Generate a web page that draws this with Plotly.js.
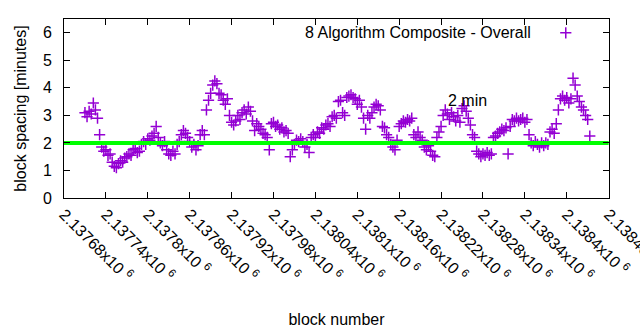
<!DOCTYPE html>
<html>
<head>
<meta charset="utf-8">
<script src="https://cdn.plot.ly/plotly-3.0.1.min.js"></script>
<style>html,body{margin:0;padding:0;background:#fff;} #chart{width:640px;height:330px;}</style>
</head>
<body>
<div id="chart"></div>
<script>
// ---- data ----
const seriesName = "8 Algorithm Composite - Overall";
const blocks = [
2137710,2137713,2137716,2137719,2137722,2137725,2137728,2137731,2137734,2137737,
2137740,2137743,2137746,2137749,2137752,2137755,2137758,2137761,2137764,2137767,
2137770,2137773,2137776,2137779,2137782,2137785,2137788,2137791,2137794,2137797,
2137800,2137803,2137806,2137809,2137812,2137815,2137818,2137821,2137824,2137827,
2137830,2137833,2137836,2137839,2137842,2137845,2137848,2137851,2137854,2137857,
2137860,2137863,2137866,2137869,2137872,2137875,2137878,2137881,2137884,2137887,
2137890,2137893,2137896,2137899,2137902,2137905,2137908,2137911,2137914,2137917,
2137920,2137923,2137926,2137929,2137932,2137935,2137938,2137941,2137944,2137947,
2137950,2137953,2137956,2137959,2137962,2137965,2137968,2137971,2137974,2137977,
2137980,2137983,2137986,2137989,2137992,2137995,2137998,2138001,2138004,2138007,
2138010,2138013,2138016,2138019,2138022,2138025,2138028,2138031,2138034,2138037,
2138040,2138043,2138046,2138049,2138052,2138055,2138058,2138061,2138064,2138067,
2138070,2138073,2138076,2138079,2138082,2138085,2138088,2138091,2138094,2138097,
2138100,2138103,2138106,2138109,2138112,2138115,2138118,2138121,2138124,2138127,
2138130,2138133,2138136,2138139,2138142,2138145,2138148,2138151,2138154,2138157,
2138160,2138163,2138166,2138169,2138172,2138175,2138178,2138181,2138184,2138187,
2138190,2138193,2138196,2138199,2138202,2138205,2138208,2138211,2138214,2138217,
2138220,2138223,2138226,2138229,2138232,2138235,2138238,2138241,2138244,2138247,
2138250,2138253,2138256,2138259,2138262,2138265,2138268,2138271,2138274,2138277,
2138280,2138283,2138286,2138289,2138292,2138295,2138298,2138301,2138304,2138307,
2138310,2138313,2138316,2138319,2138322,2138325,2138328,2138331,2138334,2138337,
2138340,2138343,2138346,2138349,2138352,2138355,2138358,2138361,2138364,2138367,
2138370,2138373,2138376,2138379,2138382,2138385,2138388,2138391,2138394,2138397,
2138400,2138403,2138406,2138409,2138412,2138415,2138418,2138421,2138424,2138427,
2138430,2138433
];
const spacing = [
3.10,2.95,3.15,3.05,3.45,3.20,2.90,2.30,1.85,1.70,
1.75,1.55,1.60,1.30,1.15,1.10,1.25,1.35,1.30,1.45,
1.50,1.60,1.55,1.75,1.80,1.65,1.70,1.95,2.05,1.95,
2.15,2.10,2.25,2.35,2.60,2.20,2.00,1.90,2.05,1.75,
1.60,1.55,1.70,1.60,1.95,2.05,2.30,2.45,2.35,2.20,
2.05,1.85,1.95,1.75,1.90,2.30,2.45,2.30,3.20,3.55,
3.80,4.10,4.25,4.15,3.80,3.75,3.55,3.40,3.60,3.00,
2.75,2.65,2.80,3.00,2.85,3.10,3.20,3.05,3.30,3.15,
2.80,2.45,2.70,2.60,2.50,2.35,2.30,2.20,1.75,2.70,
2.75,2.60,2.65,2.50,2.55,2.40,2.45,2.35,1.50,1.75,
1.95,2.10,2.05,2.15,2.05,1.85,1.95,1.65,2.20,2.30,
2.20,2.40,2.35,2.55,2.50,2.65,2.70,2.60,2.95,3.00,
2.90,3.50,3.55,3.10,3.00,3.65,3.70,3.75,3.65,3.60,
3.40,3.55,3.30,2.90,2.50,3.00,2.90,3.10,3.30,3.40,
3.35,3.20,2.60,2.55,2.30,2.20,1.95,1.85,1.75,2.10,
2.60,2.70,2.80,2.75,2.85,2.80,2.90,2.30,2.20,2.40,
2.20,2.10,1.85,1.75,1.90,1.70,1.55,1.50,2.20,2.40,
2.60,3.00,3.20,3.05,2.85,3.10,2.95,2.80,3.00,2.75,
3.25,3.35,3.15,2.90,2.65,2.30,2.20,1.70,1.60,1.50,
1.60,1.55,1.65,1.55,1.60,2.20,2.25,2.35,2.40,2.50,
2.45,2.55,1.60,2.60,2.85,2.80,2.90,2.80,2.85,2.90,
2.75,2.85,2.30,2.00,1.90,2.05,1.95,1.85,2.00,1.90,
2.00,1.95,2.40,2.50,2.35,2.70,3.20,3.60,3.70,3.55,
3.65,3.45,3.60,4.35,4.10,3.70,3.50,3.30,3.20,3.00,
2.85,2.25
];
const targetSpacing = 2;            // green reference line [minutes]
const targetLabel = "2 min";
const xRange = [2137680, 2138460];
const yRange = [0, 6.5];
const xTickVals = [2137680,2137740,2137800,2137860,2137920,2137980,2138040,2138100,2138160,2138220,2138280,2138340,2138400,2138460];
const xTickLabels = ["2.13768","2.13774","2.1378","2.13786","2.13792","2.13798","2.13804","2.1381","2.13816","2.13822","2.13828","2.13834","2.1384","2.13846"];
const yTickVals = [0,1,2,3,4,5,6];

const FONT = "Liberation Sans, Arial, sans-serif";
const purple = "#9400d3";

const traces = [
  {
    x: blocks, y: spacing, type: "scatter", mode: "markers", name: " ",
    marker: {symbol: "cross-thin", size: 8, color: purple, line: {color: purple, width: 1.5}},
    showlegend: true, hoverinfo: "none"
  },
  {
    x: xRange, y: [targetSpacing, targetSpacing], type: "scatter", mode: "lines",
    line: {color: "#00ff00", width: 4}, showlegend: false, hoverinfo: "none"
  }
];

const layout = {
  width: 640, height: 330,
  margin: {l: 64, r: 31, t: 19, b: 132},
  paper_bgcolor: "#fff", plot_bgcolor: "#fff",
  font: {family: FONT, size: 16, color: "#000"},
  xaxis: {
    range: [xRange[0], xRange[1] + 0.5], tickmode: "array", tickvals: xTickVals,
    ticktext: xTickLabels.map(s => s + "x10 <sup>6</sup>"),
    tickangle: 45, ticks: "inside", ticklen: 6, tickcolor: "#000",
    showline: true, linecolor: "#000", linewidth: 1, mirror: "allticks",
    showgrid: false, zeroline: false, ticklabeloverflow: "allow",
    tickfont: {family: FONT, size: 16},
    title: {text: "block number", font: {family: FONT, size: 16}, standoff: 30}
  },
  yaxis: {
    range: yRange, tickmode: "array", tickvals: yTickVals,
    ticks: "inside", ticklen: 6, tickcolor: "#000",
    showline: true, linecolor: "#000", linewidth: 1, mirror: "allticks",
    showgrid: false, zeroline: false, ticklabelstandoff: 8,
    tickfont: {family: FONT, size: 16},
    title: {text: "block spacing [minutes]", font: {family: FONT, size: 16}, standoff: 12}
  },
  showlegend: true,
  legend: {x: 0.884, xanchor: "left", y: 0.922, yanchor: "middle", bgcolor: "rgba(0,0,0,0)",
           font: {family: FONT, size: 16}, itemwidth: 30},
  annotations: [
    {xref: "paper", yref: "paper", x: 0.8606, y: 0.922, xanchor: "right", yanchor: "middle",
     text: seriesName, showarrow: false, font: {family: FONT, size: 16}},
    {xref: "x", yref: "y", x: 2138227, y: 3.54, xanchor: "left", yanchor: "middle",
     text: targetLabel, showarrow: false, font: {family: FONT, size: 16}}
  ]
};

Plotly.newPlot("chart", traces, layout, {staticPlot: true, displayModeBar: false});
</script>
</body>
</html>
